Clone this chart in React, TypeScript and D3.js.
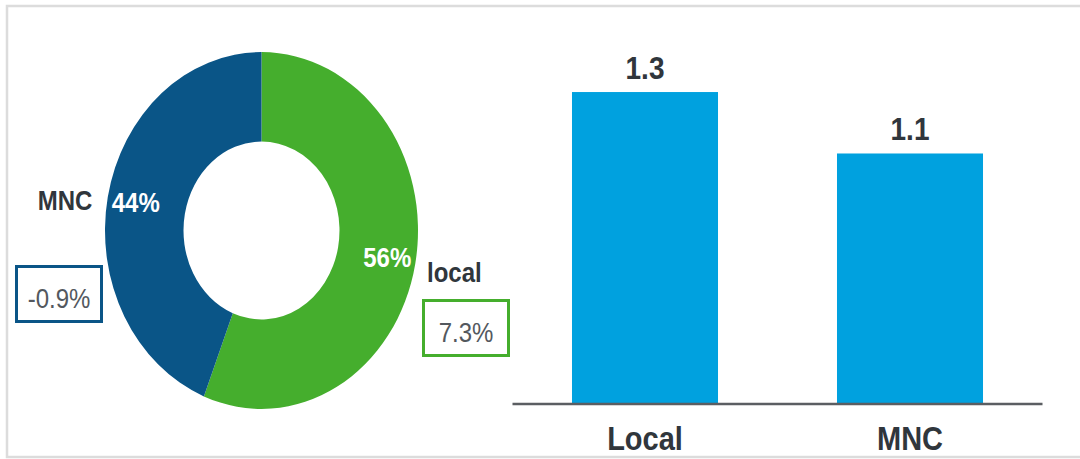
import React, { useEffect, useRef } from "react";
import * as d3 from "d3";

// donut: share of each segment
const segments = ["local", "MNC"];
const shares = [56, 44];
const growth = ["7.3%", "-0.9%"];

// bars
const barCats = ["Local", "MNC"];
const barValues = [1.32, 1.06];

const W = 1080;
const H = 459;
const GREEN = "#45ae2d";
const NAVY = "#0a5587";
const BAR = "#00a1df";
const DARK = "#30363c";
const FONT = "'Liberation Sans', Arial, sans-serif";

export default function App() {
  const ref = useRef<SVGSVGElement>(null);

  useEffect(() => {
    document.body.style.margin = "0";
    const svg = d3.select(ref.current);
    svg.selectAll("*").remove();

    // outer frame
    svg
      .append("rect")
      .attr("x", 7)
      .attr("y", 6)
      .attr("width", W + 20)
      .attr("height", 451)
      .attr("fill", "none")
      .attr("stroke", "#dcdcdc")
      .attr("stroke-width", 2.5);

    // stretched text helper (the source image is squashed horizontally)
    const label = (
      g: any,
      txt: string,
      x: number,
      y: number,
      size: number,
      opts: { fill?: string; weight?: string; anchor?: string; ky?: number } = {}
    ) =>
      g
        .append("text")
        .attr("transform", `translate(${x},${y}) scale(1,${opts.ky ?? 1.13})`)
        .attr("text-anchor", opts.anchor ?? "middle")
        .attr("font-family", FONT)
        .attr("font-size", size)
        .attr("font-weight", opts.weight ?? "bold")
        .attr("fill", opts.fill ?? DARK)
        .text(txt);

    // ---- donut ----
    const cx = 261.5;
    const cy = 230.5;
    const ky = 1.14;
    const pie = d3.pie<number>().sort(null).value((d) => d);
    const arcs = pie(shares);
    const arc = d3.arc<any>().innerRadius(78).outerRadius(156.5);
    const labelArc = d3.arc<any>().innerRadius(128).outerRadius(128);
    const colors = [GREEN, NAVY];

    const donut = svg
      .append("g")
      .attr("transform", `translate(${cx},${cy}) scale(1,${ky})`);
    donut
      .selectAll("path")
      .data(arcs)
      .enter()
      .append("path")
      .attr("d", arc)
      .attr("fill", (d: any, i: number) => colors[i]);

    const top = svg.append("g");
    arcs.forEach((a: any, i: number) => {
      const [lx, ly] = labelArc.centroid(a);
      label(top, `${shares[i]}%`, cx + lx, cy + ly * ky + 9, 24, { fill: "#ffffff" });
    });

    // outside labels + growth boxes
    label(top, segments[1], 65, 210, 24);
    label(top, segments[0], 427, 282, 24, { anchor: "start" });

    const boxes = [
      { x: 423.5, y: 300.5, w: 85, h: 55, c: GREEN, t: growth[0] },
      { x: 16.5, y: 266.5, w: 85, h: 55, c: NAVY, t: growth[1] },
    ];
    boxes.forEach((b) => {
      top
        .append("rect")
        .attr("x", b.x)
        .attr("y", b.y)
        .attr("width", b.w)
        .attr("height", b.h)
        .attr("fill", "#fff")
        .attr("stroke", b.c)
        .attr("stroke-width", 3);
      label(top, b.t, b.x + b.w / 2, b.y + 41, 24, { fill: "#53585e", weight: "normal" });
    });

    // ---- bars ----
    const x = d3
      .scaleBand()
      .domain(barCats)
      .range([512.5, 1042.5])
      .paddingInner(0.449)
      .paddingOuter(0.2245);
    const y = d3.scaleLinear().domain([0, 1.5]).range([404, 49.5]);

    const bars = svg.append("g");
    bars
      .selectAll("rect")
      .data(barValues)
      .enter()
      .append("rect")
      .attr("x", (d, i) => x(barCats[i])!)
      .attr("y", (d) => y(d))
      .attr("width", x.bandwidth())
      .attr("height", (d) => y(0) - y(d))
      .attr("fill", BAR);

    barValues.forEach((v, i) => {
      label(bars, d3.format(".1f")(v), x(barCats[i])! + x.bandwidth() / 2, y(v) - 13, 28);
      label(bars, barCats[i], x(barCats[i])! + x.bandwidth() / 2, 450, 29, { ky: 1.15 });
    });

    bars
      .append("line")
      .attr("x1", x.range()[0])
      .attr("x2", x.range()[1])
      .attr("y1", y(0))
      .attr("y2", y(0))
      .attr("stroke", "#5b5e62")
      .attr("stroke-width", 2.5);
  }, []);

  return <svg ref={ref} width={W} height={H} style={{ display: "block" }} />;
}
